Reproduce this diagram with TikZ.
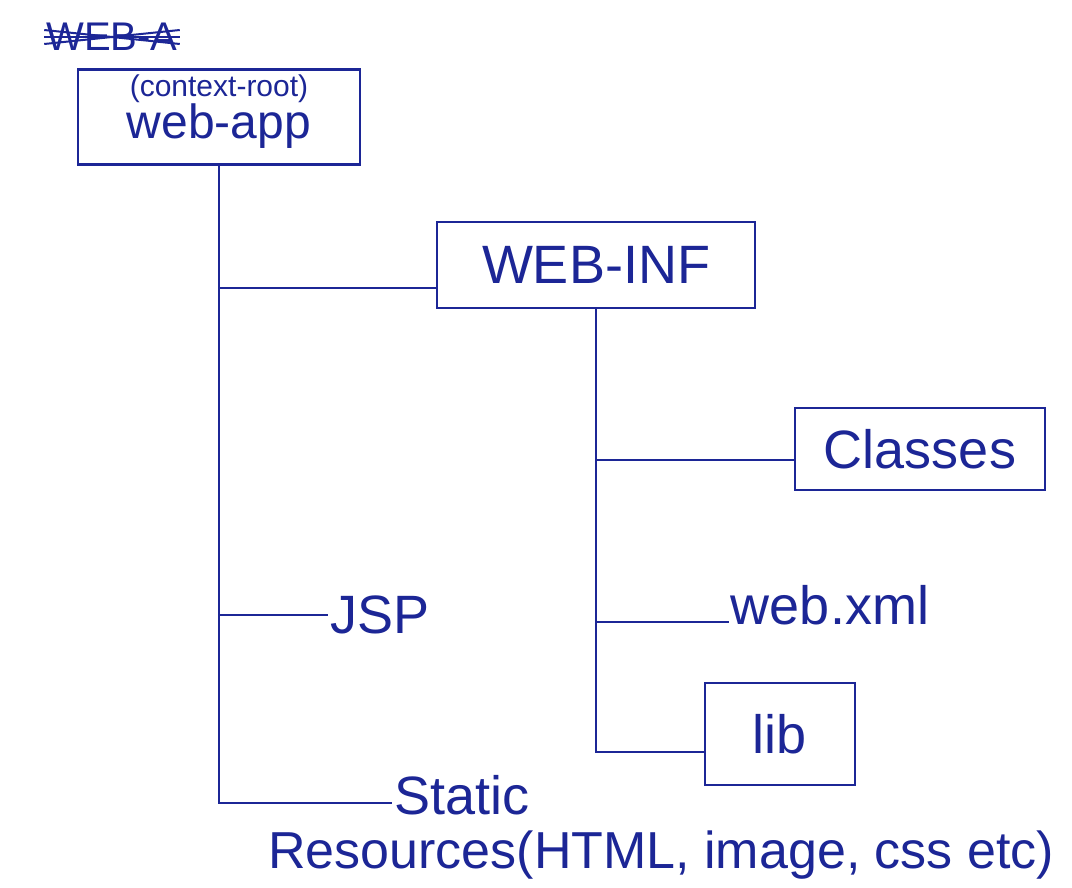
\documentclass[tikz,border=0pt]{standalone}
\usepackage{fontspec}
\setmainfont{Liberation Sans}
\usepackage{tikz}
\usetikzlibrary{positioning}
\definecolor{ink}{RGB}{28,38,150}
\tikzstyle{folder}=[rectangle,draw=ink,line width=2.6pt,text=ink,inner sep=0pt]
\tikzstyle{file}=[text=ink,inner sep=2pt]
\tikzstyle{branch}=[draw=ink,line width=2.6pt]
\tikzstyle{bigtext}=[font=\fontsize{54}{58}\selectfont]

\begin{document}
\begin{tikzpicture}[x=1pt,y=-1pt]

  \useasboundingbox (0,0) rectangle (1072,888);
  \fill[white] (0,0) rectangle (1072,888);

  % struck-out heading
  \node[file,font=\fontsize{40}{44}\selectfont] (struck) at (112,37) {WEB-A};
  \foreach \dy in {-7,0,7}
    \path[branch,line width=2pt] ([yshift=\dy pt]struck.west) -- ([yshift=-\dy pt]struck.east);

  % root folder
  \node[folder,minimum width=282pt,minimum height=95pt] (app) at (219,117) {};
  \node[file,inner sep=0pt,font=\fontsize{30}{32}\selectfont,below=6pt of app.north] (ctxroot) {(context-root)};
  \node[file,inner sep=0pt,font=\fontsize{48}{52}\selectfont,below=1pt of ctxroot] (appname) {web-app};

  % folders
  \foreach \x/\y/\w/\h/\name/\label in {596/265/318/86/webinf/WEB-INF, 920/449/250/82/classes/Classes, 780/734/150/102/lib/lib}
    \node[folder,bigtext,minimum width=\w pt,minimum height=\h pt] (\name) at (\x,\y) {\label};

  % plain entries
  \foreach \x/\y/\name/\label in {380/615/jsp/JSP, 830/605/webxml/web.xml, 462/795/static/Static}
    \node[file,bigtext] (\name) at (\x,\y) {\label};
  \node[file,font=\fontsize{52}{56}\selectfont,anchor=west] (resources) at (266,855) {Resources(HTML, image, css etc)};

  % trunk points
  \foreach \x/\y/\name in {219/288/t1, 219/615/t2, 219/803/t3, 596/460/u1, 596/622/u2, 596/752/u3}
    \coordinate (\name) at (\x,\y);

  \path[branch] (app.south) -- (t3) -- (t3 -| static.west);
  \path[branch] (webinf.south) -- (u3) -- (u3 -| lib.west);

  \foreach \source/\dest in {t1/webinf, t2/jsp, u1/classes, u2/webxml}
    \path[branch] (\source) -- (\source -| \dest.west);

\end{tikzpicture}
\end{document}
